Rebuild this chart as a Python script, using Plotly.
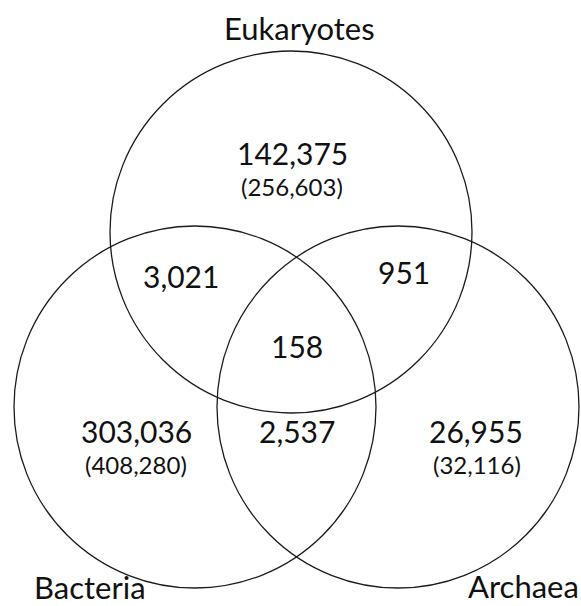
import plotly.graph_objects as go

# ---- data ----
set_names = ["Eukaryotes", "Bacteria", "Archaea"]
region_labels = ["E only", "B only", "A only", "E∩B", "E∩A", "B∩A", "E∩B∩A"]
region_counts = [142375, 303036, 26955, 3021, 951, 2537, 158]
set_totals = [256603, 408280, 32116]

# ---- layout (pixel-like coordinates, y downward) ----
W, H = 581, 606
R = 181
circle_centers = {"Eukaryotes": (291, 232), "Bacteria": (195, 407), "Archaea": (398, 407)}
region_pos = {
    "E only": (292, 153), "B only": (136, 431), "A only": (476, 431),
    "E∩B": (181, 276), "E∩A": (404, 272), "B∩A": (297, 431), "E∩B∩A": (297, 346),
}
total_pos = {"Eukaryotes": (292, 186), "Bacteria": (136, 464), "Archaea": (477, 464)}
name_pos = {"Eukaryotes": (299, 28), "Bacteria": (90, 606), "Archaea": (523, 605)}
name_anchor = {"Eukaryotes": "middle", "Bacteria": "bottom", "Archaea": "bottom"}

FONT = "Lato, Open Sans, sans-serif"

fig = go.Figure()
fig.add_trace(go.Scatter(x=[0, W], y=[0, H], mode="markers",
                         marker=dict(opacity=0), hoverinfo="skip", showlegend=False))

for name in set_names:
    cx, cy = circle_centers[name]
    fig.add_shape(type="circle", xref="x", yref="y",
                  x0=cx - R, x1=cx + R, y0=cy - R, y1=cy + R,
                  line=dict(color="#1a1a1a", width=1.3), fillcolor="rgba(0,0,0,0)")

for lab, cnt in zip(region_labels, region_counts):
    x, y = region_pos[lab]
    fig.add_annotation(x=x, y=y, text=f"{cnt:,}", showarrow=False,
                       font=dict(family=FONT, size=30, color="#111"))

for name, tot in zip(set_names, set_totals):
    x, y = total_pos[name]
    fig.add_annotation(x=x, y=y, text=f"({tot:,})", showarrow=False,
                       font=dict(family=FONT, size=24, color="#111"))

for name in set_names:
    x, y = name_pos[name]
    fig.add_annotation(x=x, y=y, text=name, showarrow=False,
                       yanchor=name_anchor[name], borderpad=0, borderwidth=0,
                       font=dict(family=FONT, size=31, color="#111"))

fig.update_layout(
    width=W, height=H, margin=dict(l=0, r=0, t=0, b=0),
    plot_bgcolor="white", paper_bgcolor="white",
    xaxis=dict(range=[0, W], visible=False, fixedrange=True),
    yaxis=dict(range=[H, 0], visible=False, fixedrange=True),
    showlegend=False,
)
fig.write_html("out.html", config={"displayModeBar": False},
               post_script="document.body.style.margin='0';document.body.style.overflow='hidden';")
